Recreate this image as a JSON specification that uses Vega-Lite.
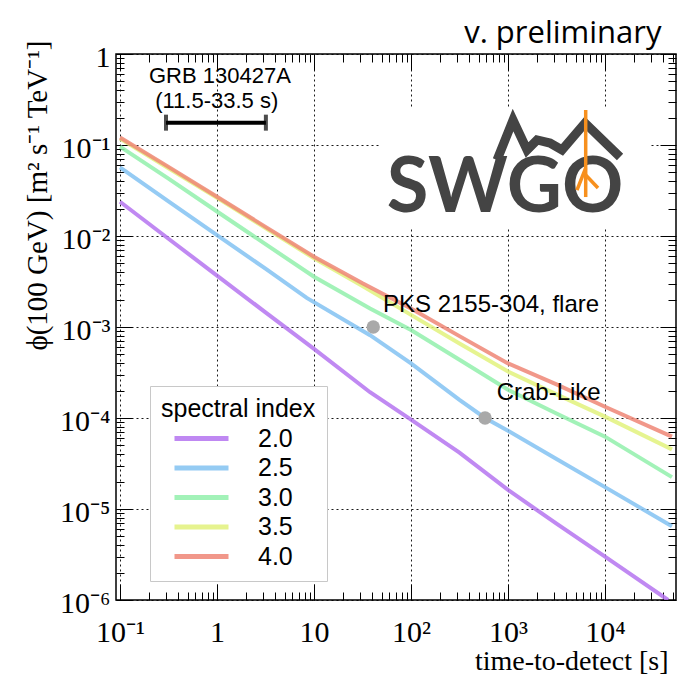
{
  "$schema": "https://vega.github.io/schema/vega-lite/v6.json",
  "width": 560,
  "height": 546,
  "autosize": {"type": "none"},
  "padding": {"left": 116, "top": 54, "right": 11, "bottom": 76},
  "background": "white",
  "title": {"text": "v. preliminary", "anchor": "end", "orient": "top", "font": "Open Sans", "fontSize": 31, "fontWeight": "normal", "color": "#000", "baseline": "alphabetic", "offset": -34, "dx": -15},
  "config": {"view": {"stroke": "#000", "strokeWidth": 1.5}},
  "datasets": {
    "curves": [
      {"s": "2.0", "x": 0.1, "y": 0.0238}, {"s": "2.0", "x": 0.316, "y": 0.00933}, {"s": "2.0", "x": 1, "y": 0.00367}, {"s": "2.0", "x": 3.16, "y": 0.00145}, {"s": "2.0", "x": 10, "y": 0.000575}, {"s": "2.0", "x": 37.8, "y": 0.000192}, {"s": "2.0", "x": 100, "y": 0.000096}, {"s": "2.0", "x": 316, "y": 0.0000417}, {"s": "2.0", "x": 1000, "y": 0.0000162}, {"s": "2.0", "x": 3162, "y": 0.0000069}, {"s": "2.0", "x": 10000, "y": 0.0000030}, {"s": "2.0", "x": 44700, "y": 0.0000010},
      {"s": "2.5", "x": 0.1, "y": 0.0569}, {"s": "2.5", "x": 0.316, "y": 0.024}, {"s": "2.5", "x": 1, "y": 0.01023}, {"s": "2.5", "x": 3.16, "y": 0.00437}, {"s": "2.5", "x": 8.41, "y": 0.00209}, {"s": "2.5", "x": 37.8, "y": 0.000813}, {"s": "2.5", "x": 100, "y": 0.000398}, {"s": "2.5", "x": 316, "y": 0.000158}, {"s": "2.5", "x": 580, "y": 0.0001}, {"s": "2.5", "x": 1000, "y": 0.0000724}, {"s": "2.5", "x": 3162, "y": 0.0000355}, {"s": "2.5", "x": 10000, "y": 0.0000174}, {"s": "2.5", "x": 49000, "y": 0.00000646},
      {"s": "3.0", "x": 0.1, "y": 0.0959}, {"s": "3.0", "x": 0.316, "y": 0.0427}, {"s": "3.0", "x": 1, "y": 0.0186}, {"s": "3.0", "x": 3.16, "y": 0.00813}, {"s": "3.0", "x": 10, "y": 0.00357}, {"s": "3.0", "x": 37.8, "y": 0.0016}, {"s": "3.0", "x": 100, "y": 0.000927}, {"s": "3.0", "x": 316, "y": 0.000437}, {"s": "3.0", "x": 1000, "y": 0.000204}, {"s": "3.0", "x": 3162, "y": 0.000112}, {"s": "3.0", "x": 10000, "y": 0.0000624}, {"s": "3.0", "x": 49000, "y": 0.0000224},
      {"s": "3.5", "x": 0.1, "y": 0.1175}, {"s": "3.5", "x": 0.316, "y": 0.0556}, {"s": "3.5", "x": 1, "y": 0.0263}, {"s": "3.5", "x": 3.16, "y": 0.0122}, {"s": "3.5", "x": 10, "y": 0.00569}, {"s": "3.5", "x": 31.6, "y": 0.00282}, {"s": "3.5", "x": 100, "y": 0.00136}, {"s": "3.5", "x": 316, "y": 0.00066}, {"s": "3.5", "x": 1000, "y": 0.000324}, {"s": "3.5", "x": 3162, "y": 0.000182}, {"s": "3.5", "x": 10000, "y": 0.0001035}, {"s": "3.5", "x": 49000, "y": 0.0000452},
      {"s": "4.0", "x": 0.1, "y": 0.121}, {"s": "4.0", "x": 0.316, "y": 0.0575}, {"s": "4.0", "x": 1, "y": 0.027}, {"s": "4.0", "x": 3.16, "y": 0.0126}, {"s": "4.0", "x": 10, "y": 0.00593}, {"s": "4.0", "x": 31.6, "y": 0.00302}, {"s": "4.0", "x": 100, "y": 0.0016}, {"s": "4.0", "x": 316, "y": 0.000794}, {"s": "4.0", "x": 1000, "y": 0.000398}, {"s": "4.0", "x": 3162, "y": 0.000234}, {"s": "4.0", "x": 10000, "y": 0.000133}, {"s": "4.0", "x": 49000, "y": 0.0000624}
    ],
    "points": [{"name": "PKS 2155-304, flare", "x": 40.8, "y": 0.001}, {"name": "Crab-Like", "x": 580, "y": 0.0001}],
    "labels": [{"text": "PKS 2155-304, flare", "x": 51.4, "y": 0.00146}, {"text": "Crab-Like", "x": 764, "y": 0.000158}],
    "grbtext": [{"text": "GRB 130427A", "x": 1.07, "y": 0.48}, {"text": "(11.5-33.5 s)", "x": 0.993, "y": 0.255}],
    "grb": [{"x": 0.298, "x2": 3.19, "y": 0.176}],
    "mask": [{"x": 47.9, "x2": 29100, "y": 0.262, "y2": 0.01225}],
    "logotext": [{"text": "SWGO", "x": 931, "y": 0.01836}],
    "mountain": [{"x": 771, "y": 0.0684}, {"x": 1127, "y": 0.188}, {"x": 1572, "y": 0.0881}, {"x": 1991, "y": 0.1135}, {"x": 2710, "y": 0.105}, {"x": 3605, "y": 0.0881}, {"x": 6220, "y": 0.1745}, {"x": 14290, "y": 0.0738}],
    "roots": [{"part": "a", "x": 6324, "y": 0.2425}, {"part": "a", "x": 6324, "y": 0.0268}, {"part": "b", "x": 6324, "y": 0.0559}, {"part": "b", "x": 5140, "y": 0.032}, {"part": "c", "x": 6324, "y": 0.0468}, {"part": "c", "x": 8470, "y": 0.0337}]
  },
  "encoding": {
    "x": {"field": "x", "type": "quantitative", "scale": {"type": "log", "domain": [0.0909, 53950], "nice": false}, "axis": null},
    "y": {"field": "y", "type": "quantitative", "scale": {"type": "log", "domain": [0.000001, 1], "nice": false}, "axis": null}
  },
  "layer": [
    {
      "data": {"name": "mask"},
      "mark": {"type": "rect", "fill": "#fff", "stroke": null},
      "encoding": {"x2": {"field": "x2"}, "y2": {"field": "y2"}}
    },
    {
      "data": {"name": "curves"},
      "mark": {"type": "line", "strokeWidth": 4, "opacity": 0.85, "clip": true},
      "encoding": {
        "x": {"field": "x", "type": "quantitative", "scale": {"type": "log", "domain": [0.0909, 53950], "nice": false},
          "axis": {
            "orient": "bottom",
            "values": [0.1,0.2,0.3,0.4,0.5,0.6,0.7,0.8,0.9,1,2,3,4,5,6,7,8,9,10,20,30,40,50,60,70,80,90,100,200,300,400,500,600,700,800,900,1000,2000,3000,4000,5000,6000,7000,8000,9000,10000,20000,30000,40000,50000],
            "domain": false,
            "grid": true, "gridColor": "#000", "gridDash": [2, 3], "gridWidth": 1,
            "gridOpacity": {"condition": {"test": "abs(log(datum.value)/LN10 - round(log(datum.value)/LN10)) < 0.001", "value": 0.9}, "value": 0},
            "tickColor": "#000", "tickWidth": 1,
            "tickSize": {"condition": {"test": "abs(log(datum.value)/LN10 - round(log(datum.value)/LN10)) < 0.001", "value": -16}, "value": -8},
            "labelExpr": "abs(log(datum.value)/LN10 - round(log(datum.value)/LN10)) > 0.001 ? '' : ['10⁻¹','1','10','10²','10³','10⁴'][round(log(datum.value)/LN10) + 1]",
            "labelFont": "Liberation Serif", "labelFontSize": 30, "labelColor": "#000",
            "labelBaseline": "alphabetic", "labelPadding": 57, "labelFlush": false, "labelOverlap": false, "labelBound": false,
            "title": "time-to-detect [s]", "titleFont": "Liberation Serif", "titleFontSize": 28, "titleFontWeight": "normal", "titleColor": "#000",
            "titleAnchor": "end", "titleAlign": "right", "titleBaseline": "alphabetic", "titleX": 552, "titleY": 69
          }
        },
        "y": {"field": "y", "type": "quantitative", "scale": {"type": "log", "domain": [0.000001, 1], "nice": false},
          "axis": {
            "orient": "left",
            "values": [0.000001,0.000002,0.000003,0.000004,0.000005,0.000006,0.000007,0.000008,0.000009,0.00001,0.00002,0.00003,0.00004,0.00005,0.00006,0.00007,0.00008,0.00009,0.0001,0.0002,0.0003,0.0004,0.0005,0.0006,0.0007,0.0008,0.0009,0.001,0.002,0.003,0.004,0.005,0.006,0.007,0.008,0.009,0.01,0.02,0.03,0.04,0.05,0.06,0.07,0.08,0.09,0.1,0.2,0.3,0.4,0.5,0.6,0.7,0.8,0.9,1],
            "domain": false,
            "grid": true, "gridColor": "#000", "gridDash": [2, 3], "gridWidth": 1,
            "gridOpacity": {"condition": {"test": "abs(log(datum.value)/LN10 - round(log(datum.value)/LN10)) < 0.001", "value": 0.9}, "value": 0},
            "tickColor": "#000", "tickWidth": 1,
            "tickSize": {"condition": {"test": "abs(log(datum.value)/LN10 - round(log(datum.value)/LN10)) < 0.001", "value": -16}, "value": -8},
            "labelExpr": "abs(log(datum.value)/LN10 - round(log(datum.value)/LN10)) > 0.001 ? '' : (round(log(datum.value)/LN10) == 0 ? '1' : '10' + ['⁻¹','⁻²','⁻³','⁻⁴','⁻⁵','⁻⁶'][-round(log(datum.value)/LN10) - 1])",
            "labelFont": "Liberation Serif", "labelFontSize": 30, "labelColor": "#000",
            "labelAlign": "right", "labelBaseline": "middle", "labelPadding": 22, "labelOffset": 3, "labelFlush": false, "labelOverlap": false, "labelBound": false,
            "title": "ϕ(100 GeV) [m² s⁻¹ TeV⁻¹]", "titleFont": "Liberation Serif", "titleFontSize": 29, "titleFontWeight": "normal", "titleColor": "#000",
            "titleAnchor": "end", "titleAngle": 270, "titleAlign": "right", "titleBaseline": "middle", "titleX": -79, "titleY": -14
          }
        },
        "color": {"field": "s", "type": "nominal",
          "scale": {"domain": ["2.0", "2.5", "3.0", "3.5", "4.0"], "range": ["#b574f0", "#82c2f2", "#92f0ac", "#e2f27c", "#ef8676"]},
          "legend": {
            "orient": "none", "legendX": 34, "legendY": 332,
            "title": "spectral index", "titleFont": "Liberation Sans", "titleFontSize": 25, "titleFontWeight": "normal", "titleColor": "#000", "titlePadding": 4,
            "labelFont": "Liberation Sans", "labelFontSize": 25, "labelColor": "#000", "labelOffset": 44,
            "symbolType": "M-3,0L3,0", "symbolSize": 324, "symbolStrokeWidth": 5, "symbolOffset": 28,
            "rowPadding": 3.5, "padding": 11, "fillColor": "#fff", "strokeColor": "#c8c8c8", "cornerRadius": 0
          }
        }
      }
    },
    {
      "data": {"name": "grb"},
      "mark": {"type": "rule", "strokeWidth": 4, "color": "#000"},
      "encoding": {"x2": {"field": "x2"}}
    },
    {
      "data": {"name": "grb"},
      "mark": {"type": "tick", "orient": "vertical", "size": 16, "thickness": 4, "color": "#000"},
      "encoding": {}
    },
    {
      "data": {"name": "grb"},
      "mark": {"type": "tick", "orient": "vertical", "size": 16, "thickness": 4, "color": "#000"},
      "encoding": {"x": {"field": "x2", "type": "quantitative", "scale": {"type": "log", "domain": [0.0909, 53950], "nice": false}, "axis": null}}
    },
    {
      "data": {"name": "points"},
      "mark": {"type": "circle", "size": 180, "color": "#a9a9a9", "opacity": 1},
      "encoding": {
        "x": {"field": "x", "type": "quantitative", "scale": {"type": "log", "domain": [0.0909, 53950], "nice": false},
          "axis": {
            "orient": "top",
            "values": [0.1,0.2,0.3,0.4,0.5,0.6,0.7,0.8,0.9,1,2,3,4,5,6,7,8,9,10,20,30,40,50,60,70,80,90,100,200,300,400,500,600,700,800,900,1000,2000,3000,4000,5000,6000,7000,8000,9000,10000,20000,30000,40000,50000],
            "domain": false, "grid": false, "labels": false, "title": null,
            "tickColor": "#000", "tickWidth": 1,
            "tickSize": {"condition": {"test": "abs(log(datum.value)/LN10 - round(log(datum.value)/LN10)) < 0.001", "value": -16}, "value": -8}
          }
        },
        "y": {"field": "y", "type": "quantitative", "scale": {"type": "log", "domain": [0.000001, 1], "nice": false},
          "axis": {
            "orient": "right",
            "values": [0.000001,0.000002,0.000003,0.000004,0.000005,0.000006,0.000007,0.000008,0.000009,0.00001,0.00002,0.00003,0.00004,0.00005,0.00006,0.00007,0.00008,0.00009,0.0001,0.0002,0.0003,0.0004,0.0005,0.0006,0.0007,0.0008,0.0009,0.001,0.002,0.003,0.004,0.005,0.006,0.007,0.008,0.009,0.01,0.02,0.03,0.04,0.05,0.06,0.07,0.08,0.09,0.1,0.2,0.3,0.4,0.5,0.6,0.7,0.8,0.9,1],
            "domain": false, "grid": false, "labels": false, "title": null,
            "tickColor": "#000", "tickWidth": 1,
            "tickSize": {"condition": {"test": "abs(log(datum.value)/LN10 - round(log(datum.value)/LN10)) < 0.001", "value": -16}, "value": -8}
          }
        }
      }
    },
    {
      "data": {"name": "labels"},
      "mark": {"type": "text", "align": "left", "baseline": "alphabetic", "font": "Liberation Sans", "fontSize": 24, "color": "#000"},
      "encoding": {"text": {"field": "text"}}
    },
    {
      "data": {"name": "grbtext"},
      "mark": {"type": "text", "align": "center", "baseline": "alphabetic", "font": "Liberation Sans", "fontSize": 22, "color": "#000"},
      "encoding": {"text": {"field": "text"}}
    },
    {
      "data": {"name": "logotext"},
      "mark": {"type": "text", "align": "center", "baseline": "alphabetic", "font": "Lato", "fontWeight": "bold", "fontSize": 76, "color": "#444444"},
      "encoding": {"text": {"field": "text"}}
    },
    {
      "data": {"name": "mountain"},
      "mark": {"type": "line", "strokeWidth": 9, "color": "#444444", "strokeJoin": "miter"},
      "encoding": {}
    },
    {
      "data": {"name": "roots"},
      "mark": {"type": "line", "strokeWidth": 3.5, "color": "#f7901e"},
      "encoding": {"detail": {"field": "part"}}
    }
  ],
  "resolve": {"axis": {"x": "independent", "y": "independent"}}
}
